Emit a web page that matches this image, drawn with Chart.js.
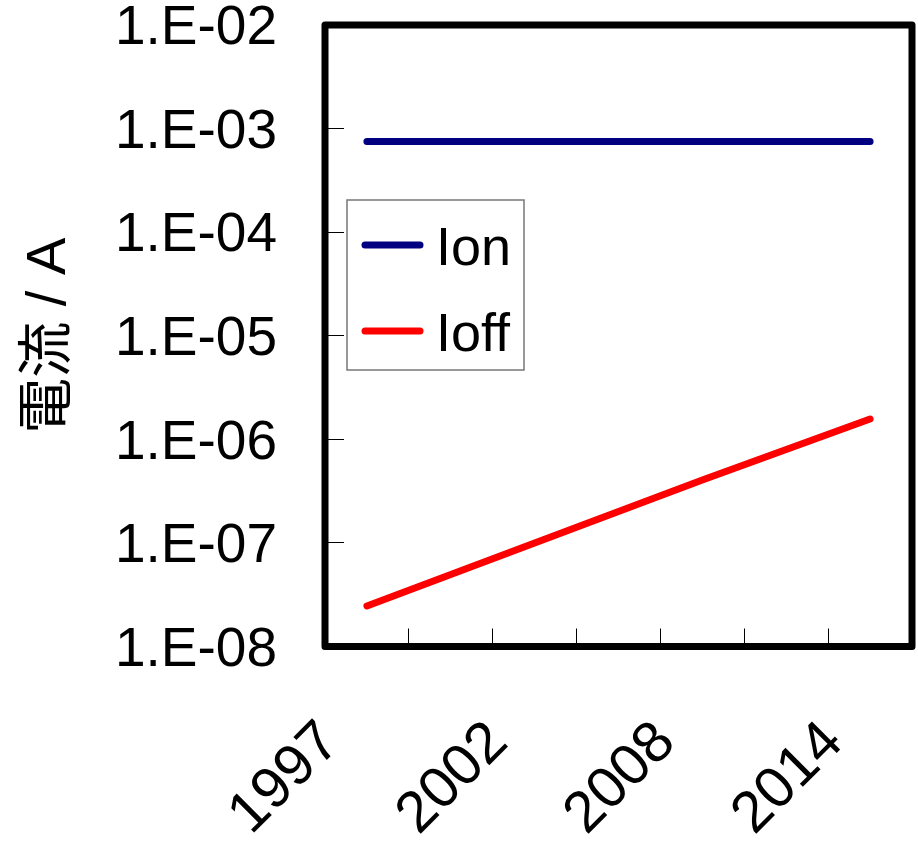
<!DOCTYPE html>
<html lang="ja">
<head>
  <meta charset="UTF-8" />
  <title>電流</title>
  <script src="https://cdn.jsdelivr.net/npm/chart.js"></script>
  <style>
    html, body { margin: 0; padding: 0; background: #fff; }
    canvas { display: block; }
  </style>
</head>
<body>
  <canvas id="chart" width="918" height="841"></canvas>

  <script>
    const years = ["1997", "1999", "2002", "2005", "2008", "2011", "2014"];
    const ion = [7.5e-4, 7.5e-4, 7.5e-4, 7.5e-4, 7.5e-4, 7.5e-4, 7.5e-4];
    const ioff = [2.46e-8, 4.95e-8, 1.0e-7, 2.01e-7, 4.05e-7, 7.98e-7, 1.57e-6];
    const yTicks = [1e-8, 1e-7, 1e-6, 1e-5, 1e-4, 1e-3, 1e-2];
    const yTickLabels = ["1.E-08", "1.E-07", "1.E-06", "1.E-05", "1.E-04", "1.E-03", "1.E-02"];

    const FONT = '"Liberation Sans", Arial, "Noto Sans CJK JP", sans-serif';

    // thick black box round the plot area
    const frame = {
      id: "frame",
      afterDraw(chart) {
        const { ctx, chartArea: a } = chart;
        ctx.save();
        ctx.strokeStyle = "#000";
        ctx.lineWidth = 7;
        ctx.lineJoin = "round";
        ctx.strokeRect(a.left, a.top, a.right - a.left, a.bottom - a.top);
        ctx.restore();
      }
    };

    // legend box inside the plot, like the spreadsheet one
    const boxLegend = {
      id: "boxLegend",
      afterDraw(chart) {
        const ctx = chart.ctx;
        const x = 347, y = 200, w = 177, h = 170;
        ctx.save();
        ctx.fillStyle = "#fff";
        ctx.fillRect(x, y, w, h);
        ctx.strokeStyle = "#777";
        ctx.lineWidth = 1.5;
        ctx.strokeRect(x, y, w, h);
        chart.data.datasets.forEach((ds, i) => {
          const ly = 245 + i * 86;
          ctx.strokeStyle = ds.borderColor;
          ctx.lineWidth = 7;
          ctx.lineCap = "round";
          ctx.beginPath();
          ctx.moveTo(365, ly);
          ctx.lineTo(420, ly);
          ctx.stroke();
          ctx.fillStyle = "#000";
          ctx.font = "54px " + FONT;
          ctx.textBaseline = "middle";
          ctx.textAlign = "left";
          ctx.fillText(ds.label, 436, ly + 5);
        });
        ctx.restore();
      }
    };

    function noPad(scale) {
      scale.paddingLeft = 0;
      scale.paddingRight = 0;
      scale.paddingTop = 0;
      scale.paddingBottom = 0;
    }

    new Chart(document.getElementById("chart"), {
      type: "line",
      data: {
        labels: years,
        datasets: [
          { label: "Ion", data: ion, borderColor: "#000080" },
          { label: "Ioff", data: ioff, borderColor: "#ff0000" }
        ]
      },
      options: {
        responsive: false,
        animation: false,
        layout: { padding: { top: 25, right: 6, left: 0, bottom: 0 } },
        elements: {
          line: { borderWidth: 7, tension: 0, borderCapStyle: "round", borderJoinStyle: "round", fill: false },
          point: { radius: 0, hoverRadius: 0 }
        },
        plugins: {
          legend: { display: false },
          tooltip: { enabled: false }
        },
        scales: {
          x: {
            type: "category",
            offset: true,
            border: { display: false },
            grid: { offset: true, drawOnChartArea: false, drawTicks: true, tickLength: -18, color: "#000", lineWidth: 1 },
            ticks: {
              autoSkip: false,
              maxRotation: 45,
              minRotation: 45,
              padding: 80,
              labelOffset: -36,
              color: "#000",
              font: { family: FONT, size: 58, lineHeight: 1.2 },
              callback: (v, i) => (i % 2 === 0 ? years[i] : "")
            },
            afterFit(scale) { scale.height = 841 - 646.5; noPad(scale); }
          },
          y: {
            type: "logarithmic",
            min: 1e-8,
            max: 1e-2,
            border: { display: false },
            grid: { drawOnChartArea: false, drawTicks: true, tickLength: -19, color: "#000", lineWidth: 1 },
            afterBuildTicks(scale) { scale.ticks = yTicks.map(v => ({ value: v })); },
            ticks: {
              padding: 67,
              labelOffset: 4,
              color: "#000",
              font: { family: FONT, size: 55, lineHeight: 0.9 },
              callback: (v) => yTickLabels[yTicks.findIndex(t => Math.abs(Math.log10(t) - Math.log10(v)) < 1e-6)]
            },
            title: {
              display: true,
              text: "電流 / A",
              color: "#000",
              font: { family: FONT, size: 56, lineHeight: 1.2 },
              padding: { top: 16, bottom: 0 }
            },
            afterFit(scale) { scale.width = 325; noPad(scale); }
          }
        }
      },
      plugins: [frame, boxLegend]
    });
  </script>
</body>
</html>
